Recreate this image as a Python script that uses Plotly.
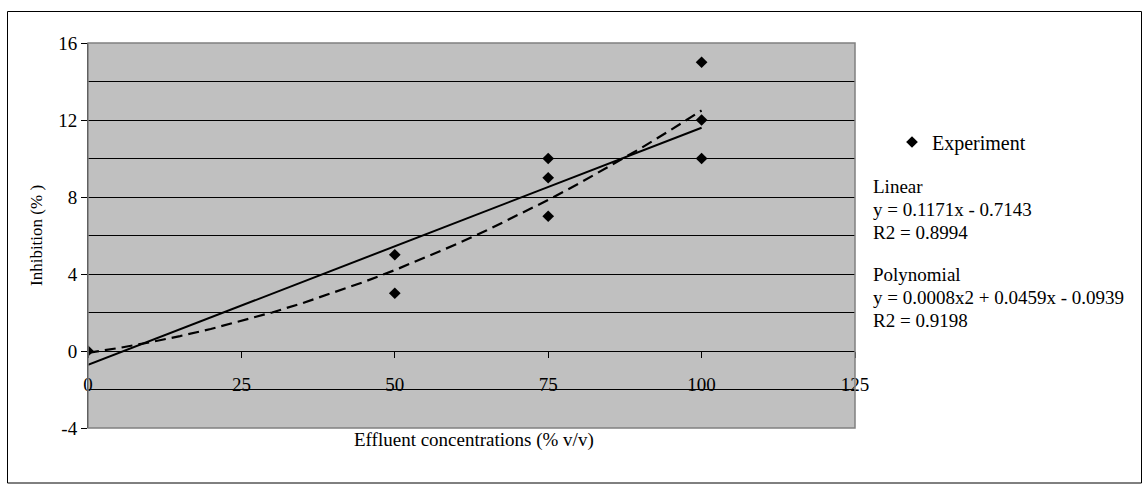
import plotly.graph_objects as go
import numpy as np

# ---- data ----
conc_x = [0, 50, 50, 75, 75, 75, 100, 100, 100]
inhib_y = [0, 5, 3, 10, 9, 7, 15, 12, 10]

# trend lines
linear_coef = [0.1232, -0.72]            # slope, intercept (drawn line)
poly_coef = [0.0008, 0.0459, -0.0939]    # x^2, x, const
trend_x = [0, 5, 10, 15, 20, 25, 30, 35, 40, 45, 50, 55, 60, 65, 70, 75, 80, 85, 90, 95, 100]

x_ticks = [0, 25, 50, 75, 100, 125]
y_ticks = [-4, 0, 4, 8, 12, 16]
y_tick_text = ["-4", "0", "4", "8", "12", "16"]

legend_lines = ["Linear", "y = 0.1171x - 0.7143", "R2 = 0.8994", "",
                "Polynomial", "y = 0.0008x2 + 0.0459x - 0.0939", "R2 = 0.9198"]

FONT = "Liberation Serif"

tx = np.array(trend_x, dtype=float)
lin_y = np.polyval(linear_coef, tx)
poly_y = np.polyval(poly_coef, tx)

fig = go.Figure()
fig.add_trace(go.Scatter(x=tx, y=lin_y, mode="lines",
                         line=dict(color="black", width=2), showlegend=False, hoverinfo="skip"))
fig.add_trace(go.Scatter(x=tx, y=poly_y, mode="lines",
                         line=dict(color="black", width=2.2, dash="11px,6px"),
                         showlegend=False, hoverinfo="skip"))
fig.add_trace(go.Scatter(x=conc_x, y=inhib_y, mode="markers", name="Experiment",
                         marker=dict(symbol="diamond", size=9, color="black")))

L, R, T, B = 88, 1144 - 855, 43, 485 - 428
PW, PH = 1144 - L - R, 485 - T - B

def px(x):
    return (x - L) / PW

def py(y):
    return (485 - B - y) / PH

annotations = []
ys = [186, 209, 232, 255, 274, 297, 320]
for txt, yy in zip(legend_lines, ys):
    if not txt:
        continue
    annotations.append(dict(text=txt, x=px(871), y=py(yy), xref="paper", yref="paper",
                            xanchor="left", yanchor="middle", showarrow=False,
                            font=dict(family=FONT, size=19, color="black")))
annotations.append(dict(text="Effluent concentrations (% v/v)", x=px(474), y=py(440),
                        xref="paper", yref="paper", xanchor="center", yanchor="middle",
                        showarrow=False, font=dict(family=FONT, size=19, color="black")))
annotations.append(dict(text="Inhibition (% )", x=px(36), y=py(236), textangle=-90,
                        xref="paper", yref="paper", xanchor="center", yanchor="middle",
                        showarrow=False, font=dict(family=FONT, size=17, color="black")))

shapes = [
    # plot area outline (gray)
    dict(type="rect", xref="paper", yref="paper", x0=0, x1=1, y0=0, y1=1,
         line=dict(color="#808080", width=1.5), layer="above"),
    # outer chart border
    dict(type="rect", xref="paper", yref="paper", x0=px(7.5), x1=px(1141.5),
         y0=py(11.5), y1=py(483), line=dict(color="black", width=1)),
]

fig.update_layout(
    width=1144, height=485,
    margin=dict(l=L, r=R, t=T, b=B, pad=0),
    paper_bgcolor="white", plot_bgcolor="#C0C0C0",
    font=dict(family=FONT, size=19, color="black"),
    showlegend=True,
    legend=dict(x=px(892), y=py(142), xanchor="left", yanchor="middle",
                bgcolor="rgba(0,0,0,0)", font=dict(family=FONT, size=20),
                itemwidth=30),
    annotations=annotations, shapes=shapes,
    xaxis=dict(range=[0, 125], tickvals=x_ticks, showgrid=False, zeroline=False,
               anchor="free", position=0.2, showline=True, linecolor="black", linewidth=1,
               ticks="outside", ticklen=6, tickcolor="black", ticklabelstandoff=10,
               tickfont=dict(family=FONT, size=19)),
    yaxis=dict(range=[-4, 16], tickvals=y_ticks, ticktext=y_tick_text,
               showgrid=True, gridcolor="black", gridwidth=1,
               zeroline=False, showline=True, linecolor="black", linewidth=1,
               ticks="outside", ticklen=6, tickcolor="black",
               tickfont=dict(family=FONT, size=19),
               minor=dict(dtick=2, tick0=0, showgrid=True, gridcolor="black", gridwidth=1, ticks="")),
)

fig.write_html("out.html")
